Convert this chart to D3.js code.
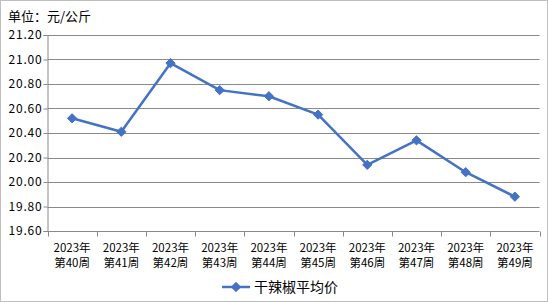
<!DOCTYPE html>
<head>
<meta charset="utf-8">
<script src="https://d3js.org/d3.v7.min.js"></script>
<style>
  body { margin: 0; background: #fff; }
  text { font-family: "Noto Sans CJK SC", "DejaVu Sans", sans-serif; fill: #000; }
</style>
</head>
<body>
<script>
var weeks = ['第40周','第41周','第42周','第43周','第44周','第45周','第46周','第47周','第48周','第49周'];
var prices = [20.52, 20.41, 20.97, 20.75, 20.70, 20.55, 20.14, 20.34, 20.08, 19.88];
var yTicks = [19.6, 19.8, 20.0, 20.2, 20.4, 20.6, 20.8, 21.0, 21.2];
var seriesName = '干辣椒平均价';

var width = 548, height = 302;
var svg = d3.select('body').append('svg')
  .attr('width', width)
  .attr('height', height);

svg.append('rect')
  .attr('x', 0.5).attr('y', 0.5)
  .attr('width', width - 1).attr('height', height - 1)
  .style('fill', '#fff').style('stroke', '#bfbfbf');

var x = d3.scaleBand().domain(weeks).range([47.5, 539.5]);
var y = d3.scaleLinear().domain([19.6, 21.2]).range([231, 35]);

svg.append('text')
  .attr('x', 8).attr('y', 21)
  .style('font-size', '13px')
  .text('单位：元/公斤');

// gridlines
svg.selectAll('.grid')
  .data(yTicks.slice(1))
  .enter().append('line')
  .attr('x1', 47.5).attr('x2', 539.5)
  .attr('y1', d => Math.round(y(d)) + 0.5)
  .attr('y2', d => Math.round(y(d)) + 0.5)
  .style('stroke', '#898989').style('stroke-width', 1);

var yAxis = svg.append('g')
  .attr('transform', 'translate(47.5,0)')
  .call(d3.axisLeft(y).tickValues(yTicks).tickSize(4).tickFormat(d3.format('.2f')));
yAxis.select('.domain').style('stroke', '#898989');
yAxis.selectAll('line').style('stroke', '#898989');
yAxis.selectAll('text')
  .style('font-size', '12px')
  .style('letter-spacing', '0.8px')
  .attr('x', -5);

var xAxis = svg.append('g')
  .attr('transform', 'translate(0,' + (Math.round(y(19.6)) + 0.5) + ')');
xAxis.append('line')
  .attr('x1', 47.5).attr('x2', 539.5)
  .style('stroke', '#898989');
xAxis.selectAll('.tk')
  .data(weeks.concat(['end']))
  .enter().append('line')
  .attr('x1', (d, i) => Math.round(47.5 + i * x.bandwidth()) + 0.5)
  .attr('x2', (d, i) => Math.round(47.5 + i * x.bandwidth()) + 0.5)
  .attr('y1', 0).attr('y2', 5)
  .style('stroke', '#898989');
var lbl = xAxis.selectAll('.lbl')
  .data(weeks)
  .enter().append('text')
  .attr('text-anchor', 'middle')
  .style('font-size', '11.5px');
lbl.append('tspan')
  .attr('x', d => x(d) + x.bandwidth() / 2).attr('y', 20)
  .text('2023年');
lbl.append('tspan')
  .attr('x', d => x(d) + x.bandwidth() / 2).attr('y', 35)
  .text(d => d);

var line = d3.line()
  .x((d, i) => x(weeks[i]) + x.bandwidth() / 2)
  .y(d => y(d));

svg.append('path')
  .datum(prices)
  .attr('d', line)
  .style('fill', 'none')
  .style('stroke', '#4472C4')
  .style('stroke-width', 2.5)
  .style('stroke-linejoin', 'round');

var diamond = d3.symbol().type(d3.symbolDiamond2).size(55);
svg.selectAll('.pt')
  .data(prices)
  .enter().append('path')
  .attr('d', diamond)
  .attr('transform', (d, i) => 'translate(' + (x(weeks[i]) + x.bandwidth() / 2) + ',' + y(d) + ')')
  .style('fill', '#4472C4')
  .style('stroke', '#4472C4');

// legend
var lg = svg.append('g').attr('transform', 'translate(222,287)');
lg.append('line')
  .attr('x1', 0).attr('x2', 28)
  .style('stroke', '#4472C4').style('stroke-width', 2.5);
lg.append('path')
  .attr('d', diamond)
  .attr('transform', 'translate(14,0)')
  .style('fill', '#4472C4').style('stroke', '#4472C4');
lg.append('text')
  .attr('x', 32).attr('y', 5)
  .style('font-size', '14px')
  .text(seriesName);
</script>
</body>
